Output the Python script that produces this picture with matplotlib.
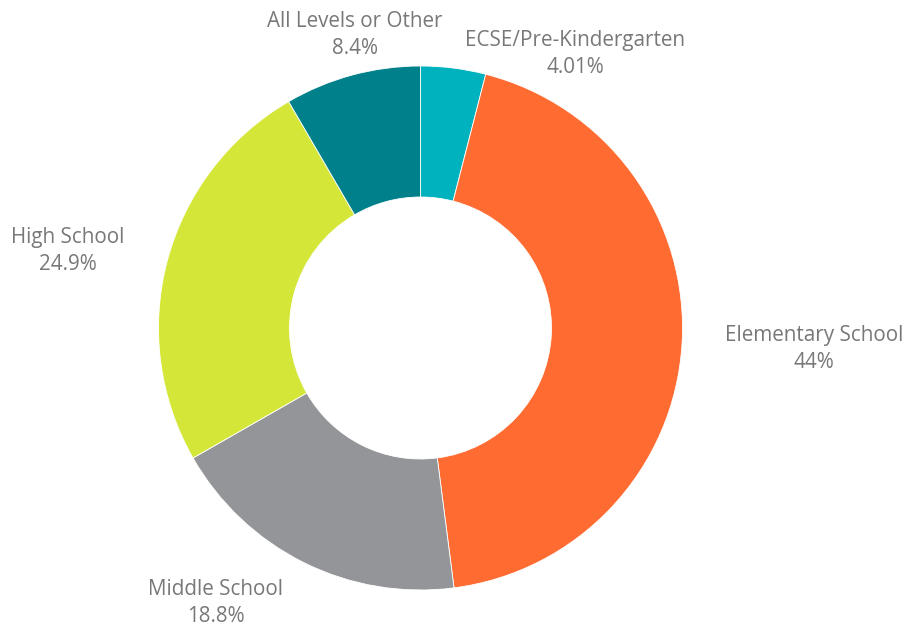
import matplotlib.pyplot as plt

# share of schools by level
levels = ["ECSE/Pre-Kindergarten", "Elementary School", "Middle School",
          "High School", "All Levels or Other"]
shares = [4.01, 44, 18.8, 24.9, 8.4]
share_text = ["4.01%", "44%", "18.8%", "24.9%", "8.4%"]

colors = ["#00B1BE", "#FF6B30", "#939598", "#D4E637", "#00808A"]
# label anchor points (pixel coords, y measured from top)
label_xy = [(575, 54), (814, 349), (216, 603), (68, 251), (355, 35)]

plt.rcParams['font.family'] = ['Open Sans', 'DejaVu Sans']

fig = plt.figure(figsize=(9.07, 6.28), dpi=100)
ax = fig.add_axes([0, 0, 1, 1])

cx, cy, r = 420.5, 628 - 328, 262
ax.pie(shares, colors=colors, startangle=90, counterclock=False,
       center=(cx, cy), radius=r, frame=True,
       wedgeprops=dict(width=r * 0.5, edgecolor='white', linewidth=0.6))
ax.set_xlim(0, 907)
ax.set_ylim(0, 628)
ax.set_aspect('equal')
ax.axis('off')

for name, pct, (x, y) in zip(levels, share_text, label_xy):
    ax.text(x, 628 - y, name + "\n" + pct, ha='center', va='center',
            fontsize=14.9, color='#787878', linespacing=1.4)

fig.savefig("out.png", dpi=100)
